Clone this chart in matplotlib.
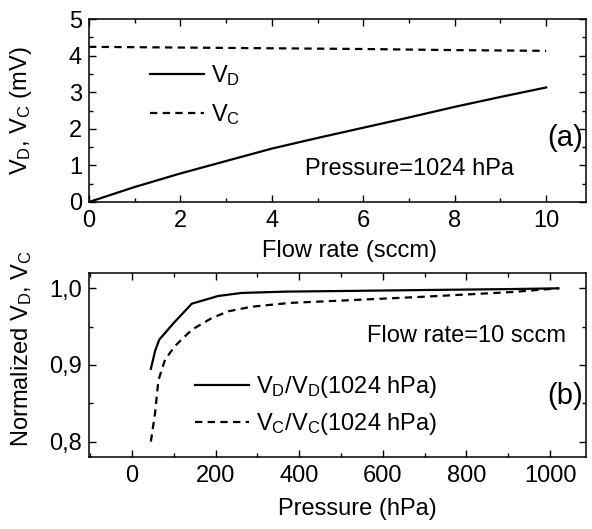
import matplotlib
matplotlib.use("Agg")
import matplotlib.pyplot as plt
from matplotlib.ticker import MultipleLocator, FuncFormatter

plt.rcParams['font.family'] = ['Liberation Sans', 'DejaVu Sans']
plt.rcParams['mathtext.fontset'] = 'custom'
plt.rcParams['mathtext.rm'] = 'Liberation Sans'
plt.rcParams['mathtext.it'] = 'Liberation Sans'
plt.rcParams['mathtext.default'] = 'regular'

# (a) signal vs flow rate at 1024 hPa
flow = [0, 1, 2, 3, 4, 5, 6, 7, 8, 9, 10]
vd = [0.0, 0.41, 0.78, 1.12, 1.46, 1.75, 2.03, 2.31, 2.60, 2.87, 3.13]
vc_flow = [0, 2, 4, 6, 8, 10]
vc = [4.24, 4.22, 4.20, 4.18, 4.15, 4.13]

# (b) normalized signals vs pressure at 10 sccm
p_d = [45, 55, 65, 100, 143, 206, 262, 366, 500, 700, 900, 1020]
nd = [0.895, 0.918, 0.933, 0.955, 0.980, 0.990, 0.994, 0.9957, 0.9965, 0.9978, 0.999, 1.0]
p_c = [45, 55, 63, 79, 103, 143, 190, 230, 286, 378, 500, 696, 904, 1020]
nc = [0.80, 0.837, 0.88, 0.907, 0.925, 0.946, 0.961, 0.970, 0.976, 0.981, 0.984, 0.989, 0.995, 1.0]

fig = plt.figure(figsize=(5.92, 5.29), dpi=100)
W, H = 592, 529
ax1 = fig.add_axes([89/W, 1-202/H, (586-89)/W, (202-19)/H])
ax2 = fig.add_axes([89/W, 1-457/H, (586-89)/W, (457-273)/H])

lw = 1.6
dash = (3.3, 2.4)
FS = 17

ax1.plot(flow, vd, color='black', lw=lw, label='V$_D$')
ax1.plot(vc_flow, vc, color='black', lw=lw, dashes=dash, label='V$_C$')
ax1.set_xlim(0, 10.87)
ax1.set_ylim(0, 5)
ax1.xaxis.set_major_locator(MultipleLocator(2))
ax1.xaxis.set_minor_locator(MultipleLocator(1))
ax1.yaxis.set_major_locator(MultipleLocator(1))
ax1.yaxis.set_minor_locator(MultipleLocator(0.5))
ax1.set_xlabel('Flow rate (sccm)', fontsize=FS)
ax1.xaxis.set_label_coords(0.525, -0.205)
ax1.set_ylabel('V$_D$, V$_C$ (mV)', fontsize=FS)
ax1.yaxis.set_label_coords(-0.11, 0.5)
ax1.legend(loc='upper left', bbox_to_anchor=(0.08, 0.875), frameon=False,
           fontsize=FS, handlelength=2.3, handletextpad=0.3, labelspacing=0.6)
ax1.text(0.435, 0.148, 'Pressure=1024 hPa', transform=ax1.transAxes,
         fontsize=FS, ha='left', va='baseline')
ax1.text(0.994, 0.347, '(a)', transform=ax1.transAxes, fontsize=21,
         ha='right', va='center')

ax2.plot(p_d, nd, color='black', lw=lw, label='V$_D$/V$_D$(1024 hPa)')
ax2.plot(p_c, nc, color='black', lw=lw, dashes=dash, label='V$_C$/V$_C$(1024 hPa)')
ax2.set_xlim(-103, 1086)
ax2.set_ylim(0.78, 1.02)
ax2.xaxis.set_major_locator(MultipleLocator(200))
ax2.xaxis.set_minor_locator(MultipleLocator(100))
ax2.yaxis.set_major_locator(MultipleLocator(0.1))
ax2.yaxis.set_minor_locator(MultipleLocator(0.05))
ax2.yaxis.set_major_formatter(FuncFormatter(lambda v, pos: ('%.1f' % v).replace('.', ',')))
ax2.set_xlabel('Pressure (hPa)', fontsize=FS)
ax2.xaxis.set_label_coords(0.539, -0.225)
ax2.set_ylabel('Normalized V$_D$, V$_C$', fontsize=FS)
ax2.yaxis.set_label_coords(-0.11, 0.59)
ax2.legend(loc='upper left', bbox_to_anchor=(0.17, 0.565), frameon=False,
           fontsize=FS, handlelength=2.3, handletextpad=0.3, labelspacing=0.45)
ax2.text(0.559, 0.627, 'Flow rate=10 sccm', transform=ax2.transAxes,
         fontsize=FS, ha='left', va='baseline')
ax2.text(0.994, 0.33, '(b)', transform=ax2.transAxes, fontsize=21,
         ha='right', va='center')

for ax in (ax1, ax2):
    for s in ax.spines.values():
        s.set_linewidth(1.1)
    ax.tick_params(which='both', direction='in', top=True, right=True,
                   labelsize=FS, width=1.0)
    ax.tick_params(axis='x', which='both', pad=6)
    ax.tick_params(axis='y', which='both', pad=5)
    ax.tick_params(which='major', length=5)
    ax.tick_params(which='minor', length=3)

fig.savefig('out.png', dpi=100)
